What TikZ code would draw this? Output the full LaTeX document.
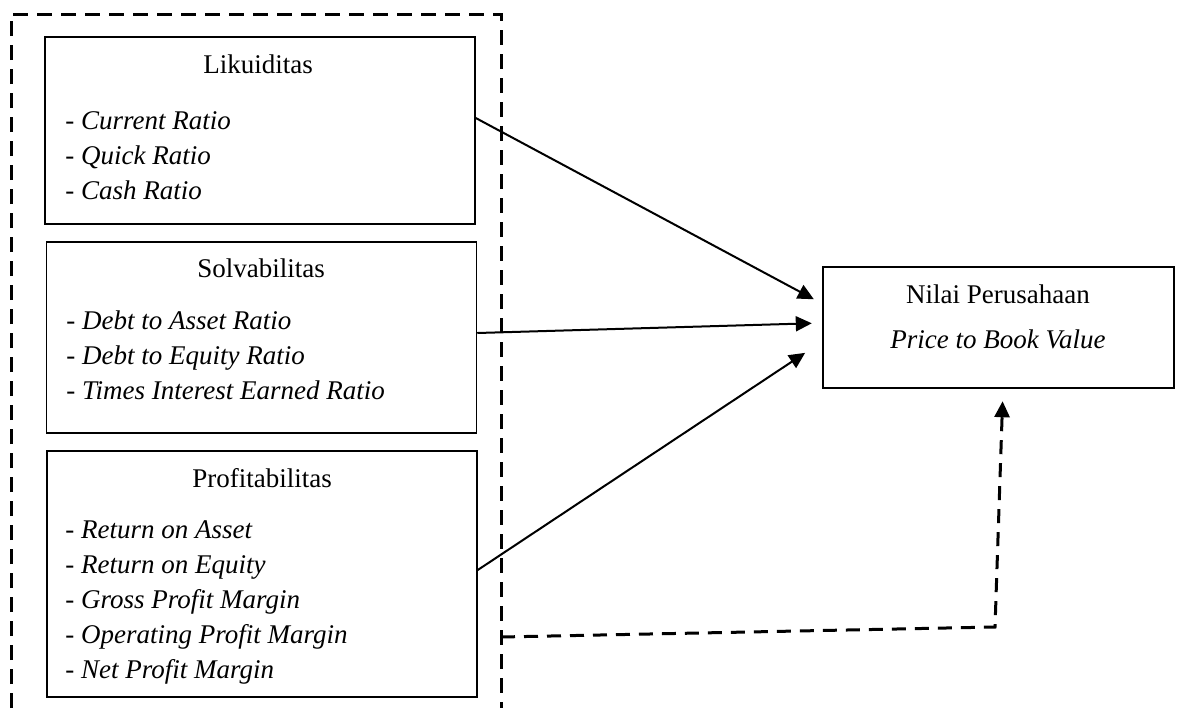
\documentclass[tikz,border=0pt]{standalone}
\usepackage{fontspec}
\setmainfont{Liberation Serif}
\usepackage{tikz}
\usetikzlibrary{arrows.meta, positioning, calc}

\begin{document}
\begin{tikzpicture}[
  x=0.5pt, y=-0.5pt,
  font=\fontsize{13.5}{17.5}\selectfont,
  ratio/.style={draw, rectangle, line width=0.75pt, inner sep=0pt,
                minimum width=215pt},
  target/.style={draw, rectangle, line width=1.2pt, inner sep=0pt,
                 minimum width=175.5pt, minimum height=60.5pt},
  heading/.style={anchor=base, inner sep=0pt},
  items/.style={anchor=base west, align=left, inner sep=0pt},
  arr/.style={-{Triangle[length=8pt,width=7.5pt]}, line width=1pt},
  dasharr/.style={arr, line width=1.5pt, dash pattern=on 7pt off 4.5pt},
  group/.style={line width=1.5pt, dash pattern=on 7.5pt off 4.5pt},
]
\useasboundingbox (0,0) rectangle (1178,708);

% kelompok rasio keuangan
\draw[group] (11,708) -- (11,14) -- (501,14) -- (501,708);
\coordinate (grpexit) at (501,637);
\coordinate (bend)    at (995,627);

\node[ratio, minimum height=93.5pt] (liq)  at (260,130.5) {};
\node[ratio, minimum height=95.5pt] (solv) at (261.5,337.5) {};
\node[ratio, minimum height=123pt]  (prof) at (262,574) {};
\node[target] (pbv) at (998.5,327.5) {};

\node[heading] (liqT)  at (258,73)  {Likuiditas};
\node[heading] (solvT) at (261,277) {Solvabilitas};
\node[heading] (profT) at (262,487) {Profitabilitas};
\node[heading] (pbvT)  at (998,303) {Nilai Perusahaan};
\node[heading] (pbvS)  at (998,348) {\textit{Price to Book Value}};

% base = baseline of the last line
\node[items] (liqL) at (65,199)
  {- \textit{Current Ratio}\\- \textit{Quick Ratio}\\- \textit{Cash Ratio}};
\node[items] (solvL) at (66,399)
  {- \textit{Debt to Asset Ratio}\\- \textit{Debt to Equity Ratio}\\- \textit{Times Interest Earned Ratio}};
\node[items] (profL) at (65,678)
  {- \textit{Return on Asset}\\- \textit{Return on Equity}\\- \textit{Gross Profit Margin}\\- \textit{Operating Profit Margin}\\- \textit{Net Profit Margin}};

\draw[arr, shorten >=4.5pt] ($(liq.east)+(0,-12.5)$) -- ($(pbv.west)+(0,-24)$);
\draw[arr, shorten >=5pt]   ($(solv.east)+(0,-4.5)$) -- ($(pbv.west)+(0,-4.5)$);
\draw[arr, shorten >=10pt]  ($(prof.east)+(0,-4)$)   -- ($(pbv.west)+(0,14.3)$);
\draw[dasharr, shorten >=6pt] (grpexit) -- (bend) -- ($(pbv.south)+(4.5,0)$);
\end{tikzpicture}
\end{document}
